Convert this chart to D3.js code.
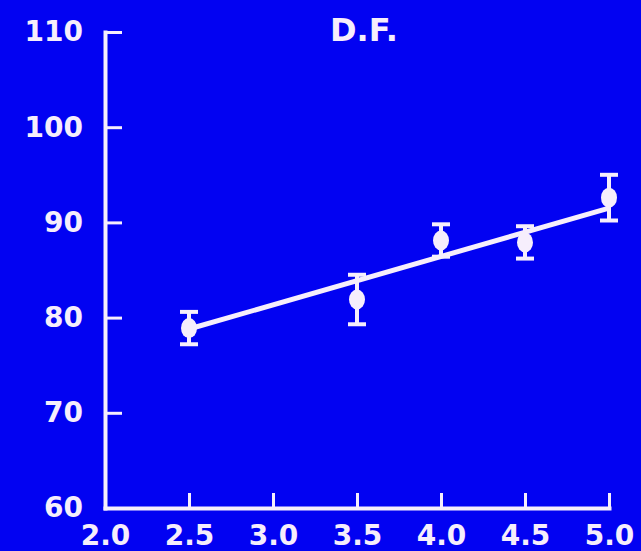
<!DOCTYPE html>
<html>
<head>
<meta charset="utf-8">
<script src="https://cdn.jsdelivr.net/npm/d3@7"></script>
<style>
  html, body { margin: 0; padding: 0; background: #0202f2; }
  svg { display: block; }
</style>
</head>
<body>
<div id="chart"></div>
<script>
const xValues = [2.5, 3.5, 4.0, 4.5, 5.0];
const yValues = [78.9, 81.9, 88.1, 87.9, 92.6];
const yErrors = [1.7, 2.6, 1.7, 1.7, 2.4];
const fitX = [2.5, 5.0];
const fitY = [78.8, 91.5];
const xTicks = [2.0, 2.5, 3.0, 3.5, 4.0, 4.5, 5.0];
const yTicks = [60, 70, 80, 90, 100, 110];
const title = "D.F.";

const W = 641, H = 551;
const margin = { top: 32, right: 32, bottom: 43, left: 105 };
const ink = "#f6eefc";

const svg = d3.select("#chart").append("svg")
  .attr("width", W).attr("height", H);

svg.append("rect").attr("width", W).attr("height", H).attr("fill", "#0202f2");

const x = d3.scaleLinear().domain([2.0, 5.0]).range([margin.left, W - margin.right]);
const y = d3.scaleLinear().domain([60, 110]).range([H - margin.bottom, margin.top]);

const font = "'DejaVu Sans', sans-serif";

// axes, ticks point inward
const gx = svg.append("g")
  .attr("transform", `translate(0,${y(60)})`)
  .call(d3.axisBottom(x).tickValues(xTicks).tickFormat(d3.format(".1f"))
    .tickSizeInner(-15).tickSizeOuter(0).tickPadding(17));

const gy = svg.append("g")
  .attr("transform", `translate(${x(2.0)},0)`)
  .call(d3.axisLeft(y).tickValues(yTicks).tickFormat(d3.format("d"))
    .tickSizeInner(-17).tickSizeOuter(0).tickPadding(22));

[gx, gy].forEach((g) => {
  g.select(".domain").attr("stroke", ink).attr("stroke-width", 4)
    .attr("stroke-linecap", "square");
  g.selectAll(".tick line").attr("stroke", ink).attr("stroke-width", 3);
  g.selectAll(".tick text")
    .attr("fill", ink)
    .style("font-family", font)
    .style("font-weight", "bold")
    .style("font-size", "28px");
});

// fit line
svg.append("line")
  .attr("x1", x(fitX[0])).attr("y1", y(fitY[0]))
  .attr("x2", x(fitX[1])).attr("y2", y(fitY[1]))
  .attr("stroke", ink).attr("stroke-width", 5);

// error bars and markers
const pts = xValues.map((v, i) => ({ x: v, y: yValues[i], e: yErrors[i] }));
const cap = 9;

const pg = svg.append("g").selectAll("g").data(pts).join("g");
pg.append("line")
  .attr("x1", (d) => x(d.x)).attr("x2", (d) => x(d.x))
  .attr("y1", (d) => y(d.y - d.e)).attr("y2", (d) => y(d.y + d.e))
  .attr("stroke", ink).attr("stroke-width", 4);
pg.append("line")
  .attr("x1", (d) => x(d.x) - cap).attr("x2", (d) => x(d.x) + cap)
  .attr("y1", (d) => y(d.y + d.e)).attr("y2", (d) => y(d.y + d.e))
  .attr("stroke", ink).attr("stroke-width", 4);
pg.append("line")
  .attr("x1", (d) => x(d.x) - cap).attr("x2", (d) => x(d.x) + cap)
  .attr("y1", (d) => y(d.y - d.e)).attr("y2", (d) => y(d.y - d.e))
  .attr("stroke", ink).attr("stroke-width", 4);
pg.append("ellipse")
  .attr("cx", (d) => x(d.x)).attr("cy", (d) => y(d.y))
  .attr("rx", 8).attr("ry", 10)
  .attr("fill", ink);

// title
svg.append("text")
  .attr("x", 364).attr("y", 41)
  .attr("text-anchor", "middle")
  .attr("fill", ink)
  .style("font-family", font)
  .style("font-weight", "bold")
  .style("font-size", "32px")
  .text(title);
</script>
</body>
</html>
